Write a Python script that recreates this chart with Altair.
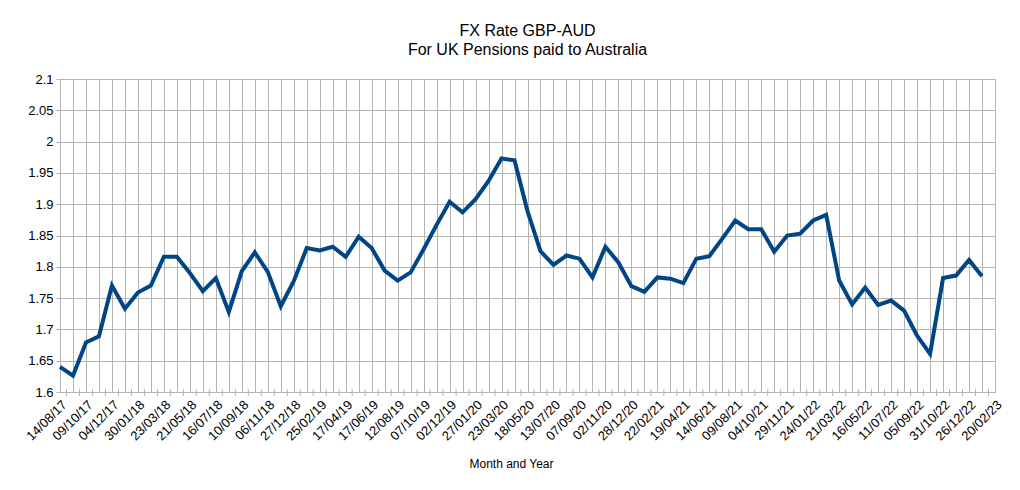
import json
import altair as alt
import pandas as pd

# Category labels shown on the x axis (every other payment date)
labels = ["14/08/17", "09/10/17", "04/12/17", "30/01/18", "23/03/18", "21/05/18",
          "16/07/18", "10/09/18", "06/11/18", "27/12/18", "25/02/19", "17/04/19",
          "17/06/19", "12/08/19", "07/10/19", "02/12/19", "27/01/20", "23/03/20",
          "18/05/20", "13/07/20", "07/09/20", "02/11/20", "28/12/20", "22/02/21",
          "19/04/21", "14/06/21", "09/08/21", "04/10/21", "29/11/21", "24/01/22",
          "21/03/22", "16/05/22", "11/07/22", "05/09/22", "31/10/22", "26/12/22",
          "20/02/23"]

# GBP-AUD rate at each 4-weekly payment
rates = [1.640, 1.626, 1.679, 1.689, 1.770, 1.733, 1.759, 1.770, 1.816, 1.816,
         1.790, 1.761, 1.782, 1.728, 1.793, 1.823, 1.792, 1.737, 1.777, 1.830,
         1.826, 1.832, 1.816, 1.848, 1.830, 1.794, 1.778, 1.791, 1.828, 1.867,
         1.904, 1.887, 1.908, 1.937, 1.973, 1.970, 1.889, 1.825, 1.803, 1.818,
         1.813, 1.783, 1.832, 1.807, 1.769, 1.760, 1.783, 1.781, 1.774, 1.813,
         1.817, 1.845, 1.874, 1.860, 1.860, 1.824, 1.850, 1.853, 1.874, 1.883,
         1.778, 1.740, 1.767, 1.739, 1.746, 1.730, 1.690, 1.661, 1.782, 1.786,
         1.811, 1.785]

y_ticks = [1.6, 1.65, 1.7, 1.75, 1.8, 1.85, 1.9, 1.95, 2.0, 2.05, 2.1]

n_cat = 2 * (len(labels) - 1)  # index of last category
df = pd.DataFrame({"idx": list(range(len(rates))), "rate": rates})
tick_df = pd.DataFrame({"pos": [i + 0.5 for i in range(n_cat)]})

FONT = "Liberation Sans"
GRID = "#b3b3b3"
W, H = 935, 313

label_expr = (
    "datum.value % 2 == 0 ? " + json.dumps(labels) + "[datum.value / 2] : ''"
)

x_scale = alt.Scale(domain=[0, n_cat], nice=False, zero=False)
y_scale = alt.Scale(domain=[1.6, 2.1], nice=False, zero=False)

line = alt.Chart(df).mark_line(color="#004586", strokeWidth=4).encode(
    x=alt.X("idx:Q", scale=x_scale,
            axis=alt.Axis(values=list(range(n_cat + 1)), tickCount=200,
                          labelExpr=label_expr,
                          labelAngle=-45, labelAlign="right", labelBaseline="top",
                          labelOverlap=False, labelFontSize=13, labelFont=FONT,
                          labelColor="black", labelPadding=6, ticks=False,
                          grid=True, gridColor=GRID, domainColor=GRID,
                          title="Month and Year", titleFont=FONT, titleFontSize=12,
                          titleFontWeight="normal", titleColor="black",
                          titleX=451, titleY=71, titleBaseline="middle")),
    y=alt.Y("rate:Q", scale=y_scale,
            axis=alt.Axis(values=y_ticks, tickCount=50, format="~g",
                          labelFontSize=13,
                          labelFont=FONT, labelColor="black", tickSize=4,
                          tickColor=GRID, labelPadding=3, grid=True,
                          gridColor=GRID, domainColor=GRID, title=None)),
)

ticks = alt.Chart(tick_df).mark_rule(color=GRID, strokeWidth=1).encode(
    x=alt.X("pos:Q", scale=x_scale),
    y=alt.value(H - 3),
    y2=alt.value(H + 4),
)

chart = alt.layer(ticks, line).properties(
    width=W, height=H,
    autosize=alt.AutoSizeParams(type="none"),
    padding={"left": 52, "top": 71, "right": 17, "bottom": 80},
    title=alt.TitleParams(
        text=["FX Rate GBP-AUD", "For UK Pensions paid to Australia"],
        font=FONT, fontSize=16, fontWeight="normal", color="black",
        anchor="middle", offset=15, lineHeight=19),
).configure_view(stroke=None)

chart.save("out.html", embed_options={"renderer": "svg", "actions": False})
